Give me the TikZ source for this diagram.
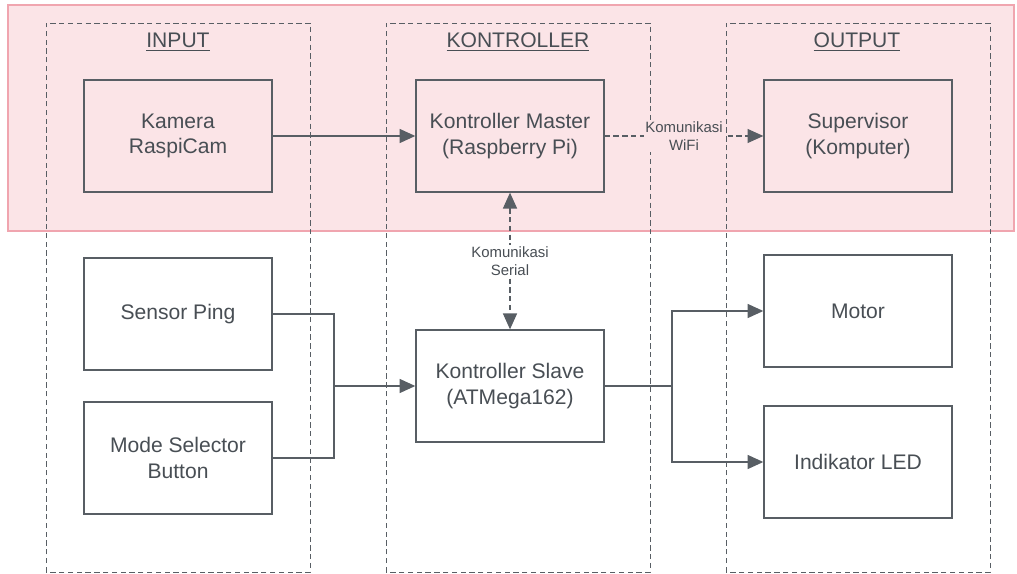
\documentclass[tikz,border=0pt]{standalone}
\usepackage{fontspec}
\setmainfont{Liberation Sans}
\usetikzlibrary{arrows.meta, positioning}
\definecolor{linegray}{RGB}{88,94,100}
\definecolor{textgray}{RGB}{72,78,84}
\definecolor{bandpink}{RGB}{251,228,231}
\definecolor{bandedge}{RGB}{240,165,175}

\begin{document}
\begin{tikzpicture}[
    x=0.02cm, y=-0.02cm,
    blok/.style={rectangle, draw=linegray, line width=0.8pt, minimum width=3.76cm, minimum height=2.24cm, align=center, font=\fontsize{12}{14.5}\selectfont, text=textgray},
    judul/.style={font=\fontsize{12}{14}\selectfont, text=textgray},
    ket/.style={font=\fontsize{8.5}{10.5}\selectfont, text=textgray, align=center},
    kolom/.style={draw=linegray, line width=0.5pt, dash pattern=on 3pt off 2pt},
    arr/.style={-{Triangle[length=9pt, width=8pt]}, draw=linegray, line width=0.8pt},
    darr/.style={{Triangle[length=9pt, width=8pt]}-{Triangle[length=9pt, width=8pt]}, draw=linegray, line width=0.6pt, dash pattern=on 3pt off 2pt},
]
\useasboundingbox (0,0) rectangle (1017,574);

% Latar merah muda
\fill[bandpink] (8,5) rectangle (1014,231);
\draw[bandedge, line width=0.6pt] (8,5) rectangle (1014,231);

% Kolom
\draw[kolom] (46,572) rectangle (310,23);
\draw[kolom] (386,572) rectangle (650,23);
\draw[kolom] (726,572) rectangle (990,23);

\node[judul] (tIn) at (178,42) {\underline{INPUT}};
\node[judul] (tKon) at (518,42) {\underline{KONTROLLER}};
\node[judul] (tOut) at (857,42) {\underline{OUTPUT}};

% Blok
\node[blok] (kamera) at (178,136) {Kamera\\RaspiCam};
\node[blok] (master) at (510,136) {Kontroller Master\\(Raspberry Pi)};
\node[blok] (super) at (858,136) {Supervisor\\(Komputer)};
\node[blok] (ping) at (178,314) {Sensor Ping};
\node[blok] (mode) at (178,458) {Mode Selector\\Button};
\node[blok] (slave) at (510,386) {Kontroller Slave\\(ATMega162)};
\node[blok] (motor) at (858,311) {Motor};
\node[blok] (led) at (858,462) {Indikator LED};

% Koneksi
\draw[arr] (kamera) -- (master);
\draw[arr, dash pattern=on 3pt off 2pt, line width=0.6pt] (master) -- (super)
    node[ket, pos=0.5, fill=bandpink, inner sep=1pt] (wifi) {Komunikasi\\WiFi};
\draw[darr] (master) -- (slave)
    node[ket, pos=0.5, fill=white, inner sep=1pt] (serial) {Komunikasi\\Serial};

\coordinate (gabung) at (334,386);
\coordinate (cabang) at (672,386);
\draw[linegray, line width=0.8pt] (ping.east) -| (gabung);
\draw[linegray, line width=0.8pt] (mode.east) -| (gabung);
\draw[arr] (gabung) -- (slave.west);
\draw[linegray, line width=0.8pt] (slave.east) -- (cabang);
\draw[arr] (cabang) |- (motor.west);
\draw[arr] (cabang) |- (led.west);

\end{tikzpicture}
\end{document}
